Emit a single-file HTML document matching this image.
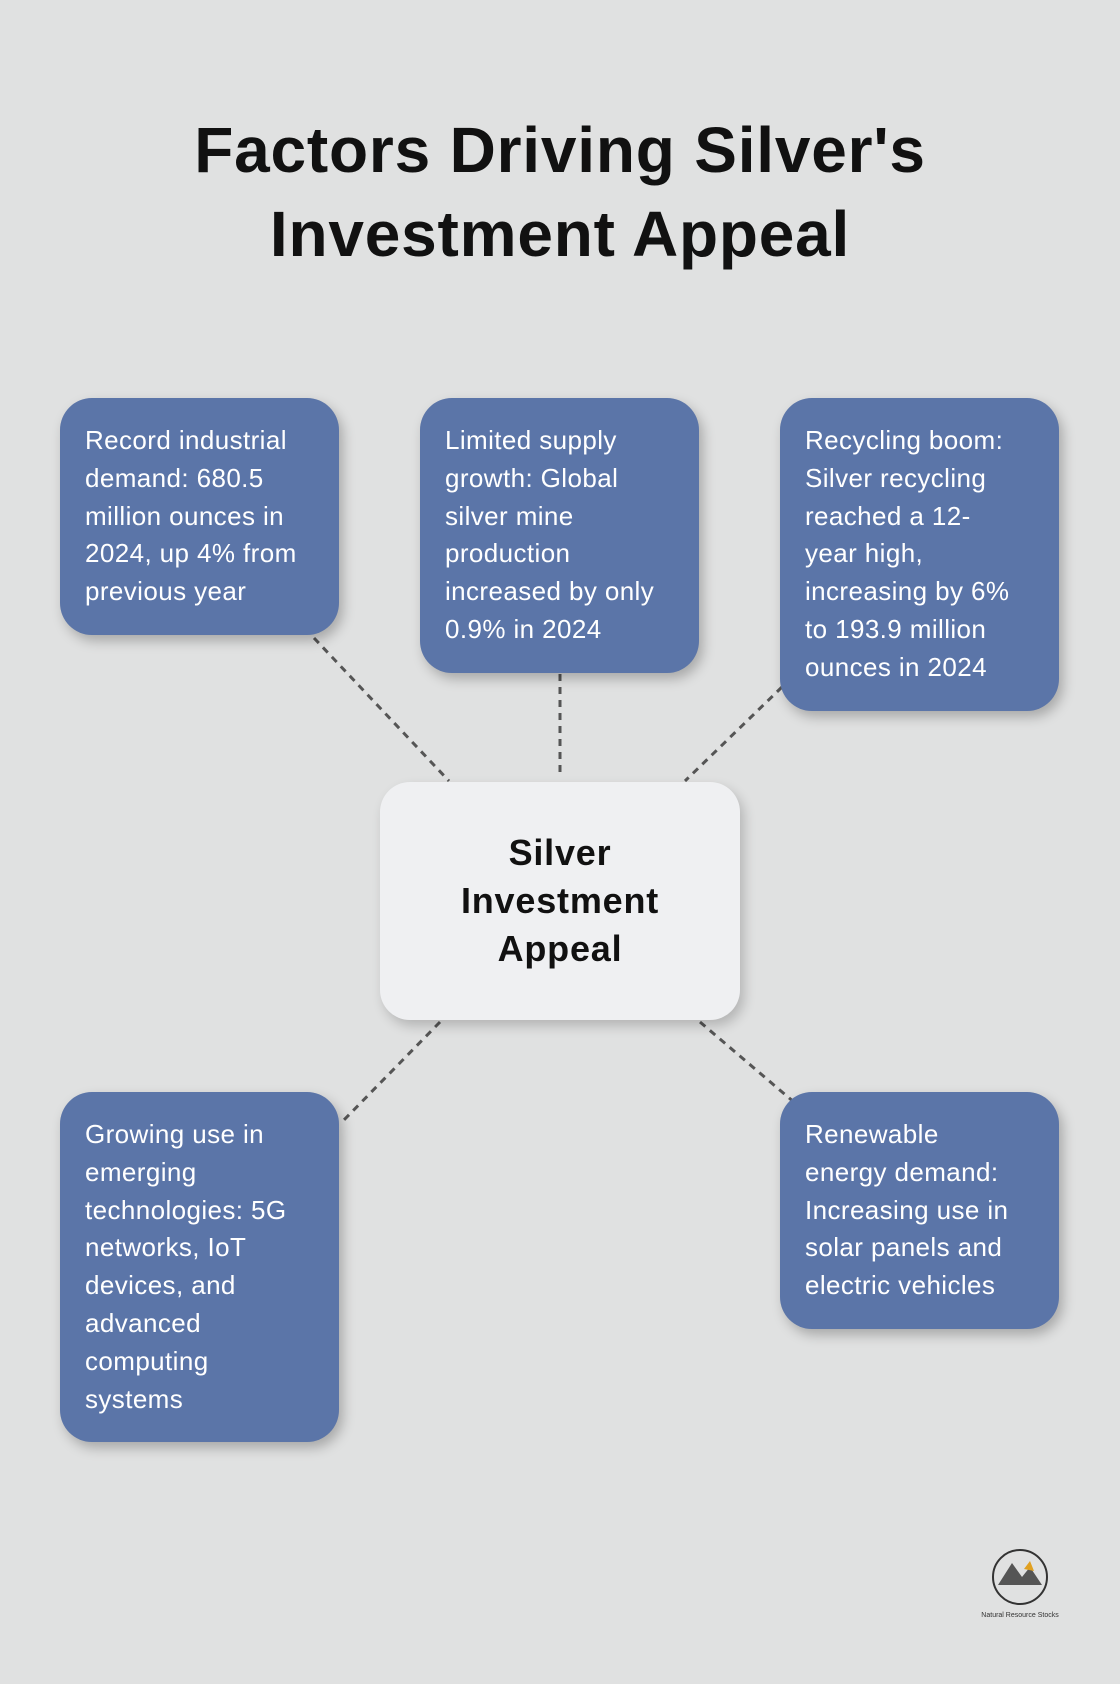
<!DOCTYPE html>
<html><head><meta charset="utf-8"><style>
body{margin:0;width:1120px;height:1684px;background:#e0e1e1;position:relative;font-family:"Liberation Sans",sans-serif;overflow:hidden}
h1{position:absolute;top:108px;left:0;width:1120px;text-align:center;margin:0;font-size:64px;line-height:84px;font-weight:bold;color:#111;letter-spacing:0.8px}
.b{position:absolute;background:#5b75a8;color:#fff;border-radius:32px;box-sizing:border-box;padding:24px 0 0 25px;font-size:26px;line-height:37.8px;box-shadow:4px 6px 12px rgba(0,0,0,.25);white-space:nowrap;letter-spacing:0.4px}
.c{position:absolute;left:380px;top:782px;width:360px;height:238px;background:#eff0f2;border-radius:30px;box-shadow:4px 6px 12px rgba(0,0,0,.2);display:flex;align-items:center;justify-content:center;text-align:center;font-weight:bold;font-size:36px;line-height:48px;color:#111;letter-spacing:0.8px}
svg{position:absolute;left:0;top:0}
</style></head><body>
<h1>Factors Driving Silver's<br>Investment Appeal</h1>
<svg width="1120" height="1684"><g stroke="#555" stroke-width="3" stroke-dasharray="7,6" fill="none">
<line x1="314" y1="638" x2="449" y2="781"/><line x1="560" y1="674" x2="560" y2="776"/><line x1="782" y1="687" x2="685" y2="781"/><line x1="440" y1="1022" x2="340" y2="1124"/><line x1="700" y1="1022" x2="795" y2="1103"/></g>
<g transform="translate(1020,1577)"><circle r="27" fill="none" stroke="#333" stroke-width="2"/><path d="M-22 8 L-8 -14 L2 0 L10 -10 L22 8Z" fill="#555"/><path d="M4 -8 L10 -16 L14 -6Z" fill="#e0a020"/><text y="40" font-size="7" text-anchor="middle" fill="#333">Natural Resource Stocks</text></g></svg>
<div class="b" style="left:60px;top:398px;width:279px;height:237px">Record industrial<br>demand: 680.5<br>million ounces in<br>2024, up 4% from<br>previous year</div>
<div class="b" style="left:420px;top:398px;width:279px;height:275px">Limited supply<br>growth: Global<br>silver mine<br>production<br>increased by only<br>0.9% in 2024</div>
<div class="b" style="left:780px;top:398px;width:279px;height:313px">Recycling boom:<br>Silver recycling<br>reached a 12-<br>year high,<br>increasing by 6%<br>to 193.9 million<br>ounces in 2024</div>
<div class="c">Silver<br>Investment<br>Appeal</div>
<div class="b" style="left:60px;top:1092px;width:279px;height:350px">Growing use in<br>emerging<br>technologies: 5G<br>networks, IoT<br>devices, and<br>advanced<br>computing<br>systems</div>
<div class="b" style="left:780px;top:1092px;width:279px;height:237px">Renewable<br>energy demand:<br>Increasing use in<br>solar panels and<br>electric vehicles</div>
</body></html>
